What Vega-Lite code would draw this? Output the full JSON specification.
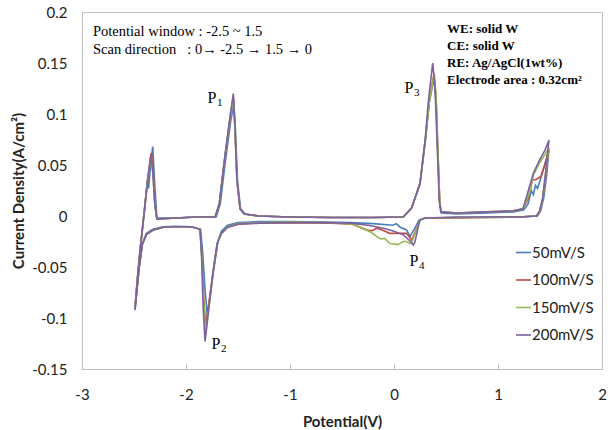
{
"$schema": "https://vega.github.io/schema/vega-lite/v6.json",
"width": 520, "height": 357,
"autosize": {"type": "none"},
"padding": {"left": 82, "top": 12, "right": 9, "bottom": 61},
"config": {"view": {"stroke": "#BFBFBF", "strokeWidth": 1}, "font": "Lato"},
"datasets": {
"cv": [
{"s":"50mV/S","o":1,"x":1.49,"y":0.065},{"s":"50mV/S","o":2,"x":1.47,"y":0.042},{"s":"50mV/S","o":3,"x":1.44,"y":0.018},{"s":"50mV/S","o":4,"x":1.41,"y":0.005},{"s":"50mV/S","o":5,"x":1.38,"y":0.0},{"s":"50mV/S","o":6,"x":1.2,"y":-0.001},{"s":"50mV/S","o":7,"x":0.9,"y":-0.001},{"s":"50mV/S","o":8,"x":0.6,"y":-0.0015},{"s":"50mV/S","o":9,"x":0.3,"y":-0.002},{"s":"50mV/S","o":10,"x":0.24,"y":-0.004},{"s":"50mV/S","o":11,"x":0.2,"y":-0.012},{"s":"50mV/S","o":12,"x":0.155,"y":-0.02},{"s":"50mV/S","o":13,"x":0.12,"y":-0.0137},{"s":"50mV/S","o":14,"x":0.06,"y":-0.011},{"s":"50mV/S","o":15,"x":0.02,"y":-0.0075},{"s":"50mV/S","o":16,"x":-0.01,"y":-0.009},{"s":"50mV/S","o":17,"x":-0.2,"y":-0.0075},{"s":"50mV/S","o":18,"x":-0.42,"y":-0.0065},{"s":"50mV/S","o":19,"x":-0.7,"y":-0.006},{"s":"50mV/S","o":20,"x":-1.0,"y":-0.0055},{"s":"50mV/S","o":21,"x":-1.3,"y":-0.0055},{"s":"50mV/S","o":22,"x":-1.5,"y":-0.0065},{"s":"50mV/S","o":23,"x":-1.6,"y":-0.009},{"s":"50mV/S","o":24,"x":-1.66,"y":-0.015},{"s":"50mV/S","o":25,"x":-1.69,"y":-0.024},{"s":"50mV/S","o":26,"x":-1.73,"y":-0.05},{"s":"50mV/S","o":27,"x":-1.77,"y":-0.08},{"s":"50mV/S","o":28,"x":-1.795,"y":-0.097},{"s":"50mV/S","o":29,"x":-1.815,"y":-0.075},{"s":"50mV/S","o":30,"x":-1.84,"y":-0.035},{"s":"50mV/S","o":31,"x":-1.86,"y":-0.013},{"s":"50mV/S","o":32,"x":-1.95,"y":-0.0105},{"s":"50mV/S","o":33,"x":-2.1,"y":-0.01},{"s":"50mV/S","o":34,"x":-2.22,"y":-0.0105},{"s":"50mV/S","o":35,"x":-2.32,"y":-0.013},{"s":"50mV/S","o":36,"x":-2.38,"y":-0.017},{"s":"50mV/S","o":37,"x":-2.42,"y":-0.027},{"s":"50mV/S","o":38,"x":-2.45,"y":-0.05},{"s":"50mV/S","o":39,"x":-2.49,"y":-0.092},{"s":"50mV/S","o":40,"x":-2.47,"y":-0.065},{"s":"50mV/S","o":41,"x":-2.44,"y":-0.032},{"s":"50mV/S","o":42,"x":-2.4,"y":0.006},{"s":"50mV/S","o":43,"x":-2.37,"y":0.035},{"s":"50mV/S","o":44,"x":-2.36,"y":0.027},{"s":"50mV/S","o":45,"x":-2.34,"y":0.05},{"s":"50mV/S","o":46,"x":-2.32,"y":0.068},{"s":"50mV/S","o":47,"x":-2.3,"y":0.03},{"s":"50mV/S","o":48,"x":-2.28,"y":-0.002},{"s":"50mV/S","o":49,"x":-2.1,"y":-0.002},{"s":"50mV/S","o":50,"x":-1.9,"y":-0.001},{"s":"50mV/S","o":51,"x":-1.71,"y":-0.001},{"s":"50mV/S","o":52,"x":-1.67,"y":0.012},{"s":"50mV/S","o":53,"x":-1.62,"y":0.055},{"s":"50mV/S","o":54,"x":-1.57,"y":0.093},{"s":"50mV/S","o":55,"x":-1.54,"y":0.11},{"s":"50mV/S","o":56,"x":-1.525,"y":0.085},{"s":"50mV/S","o":57,"x":-1.505,"y":0.035},{"s":"50mV/S","o":58,"x":-1.475,"y":0.007},{"s":"50mV/S","o":59,"x":-1.43,"y":0.002},{"s":"50mV/S","o":60,"x":-1.3,"y":0.0},{"s":"50mV/S","o":61,"x":-1.0,"y":-0.001},{"s":"50mV/S","o":62,"x":-0.6,"y":-0.0015},{"s":"50mV/S","o":63,"x":-0.2,"y":-0.0015},{"s":"50mV/S","o":64,"x":0.09,"y":-0.001},{"s":"50mV/S","o":65,"x":0.17,"y":0.008},{"s":"50mV/S","o":66,"x":0.25,"y":0.031},{"s":"50mV/S","o":67,"x":0.3,"y":0.072},{"s":"50mV/S","o":68,"x":0.34,"y":0.112},{"s":"50mV/S","o":69,"x":0.385,"y":0.135},{"s":"50mV/S","o":70,"x":0.405,"y":0.11},{"s":"50mV/S","o":71,"x":0.42,"y":0.065},{"s":"50mV/S","o":72,"x":0.44,"y":0.012},{"s":"50mV/S","o":73,"x":0.455,"y":0.003},{"s":"50mV/S","o":74,"x":0.6,"y":0.002},{"s":"50mV/S","o":75,"x":0.9,"y":0.003},{"s":"50mV/S","o":76,"x":1.15,"y":0.004},{"s":"50mV/S","o":77,"x":1.25,"y":0.006},{"s":"50mV/S","o":78,"x":1.29,"y":0.012},{"s":"50mV/S","o":79,"x":1.32,"y":0.025},{"s":"50mV/S","o":80,"x":1.34,"y":0.021},{"s":"50mV/S","o":81,"x":1.36,"y":0.03},{"s":"50mV/S","o":82,"x":1.38,"y":0.027},{"s":"50mV/S","o":83,"x":1.42,"y":0.04},{"s":"50mV/S","o":84,"x":1.49,"y":0.065},

{"s":"100mV/S","o":1,"x":1.485,"y":0.063},{"s":"100mV/S","o":2,"x":1.46,"y":0.04},{"s":"100mV/S","o":3,"x":1.43,"y":0.016},{"s":"100mV/S","o":4,"x":1.4,"y":0.004},{"s":"100mV/S","o":5,"x":1.37,"y":0.0},{"s":"100mV/S","o":6,"x":1.2,"y":-0.001},{"s":"100mV/S","o":7,"x":0.9,"y":-0.0015},{"s":"100mV/S","o":8,"x":0.6,"y":-0.002},{"s":"100mV/S","o":9,"x":0.3,"y":-0.002},{"s":"100mV/S","o":10,"x":0.25,"y":-0.004},{"s":"100mV/S","o":11,"x":0.21,"y":-0.014},{"s":"100mV/S","o":12,"x":0.17,"y":-0.0235},{"s":"100mV/S","o":13,"x":0.12,"y":-0.017},{"s":"100mV/S","o":14,"x":0.04,"y":-0.017},{"s":"100mV/S","o":15,"x":-0.04,"y":-0.017},{"s":"100mV/S","o":16,"x":-0.12,"y":-0.0135},{"s":"100mV/S","o":17,"x":-0.167,"y":-0.012},{"s":"100mV/S","o":18,"x":-0.21,"y":-0.0145},{"s":"100mV/S","o":19,"x":-0.26,"y":-0.0137},{"s":"100mV/S","o":20,"x":-0.4,"y":-0.008},{"s":"100mV/S","o":21,"x":-0.6,"y":-0.007},{"s":"100mV/S","o":22,"x":-1.0,"y":-0.0065},{"s":"100mV/S","o":23,"x":-1.3,"y":-0.007},{"s":"100mV/S","o":24,"x":-1.5,"y":-0.008},{"s":"100mV/S","o":25,"x":-1.6,"y":-0.011},{"s":"100mV/S","o":26,"x":-1.66,"y":-0.017},{"s":"100mV/S","o":27,"x":-1.7,"y":-0.027},{"s":"100mV/S","o":28,"x":-1.74,"y":-0.055},{"s":"100mV/S","o":29,"x":-1.78,"y":-0.085},{"s":"100mV/S","o":30,"x":-1.81,"y":-0.108},{"s":"100mV/S","o":31,"x":-1.83,"y":-0.08},{"s":"100mV/S","o":32,"x":-1.85,"y":-0.035},{"s":"100mV/S","o":33,"x":-1.865,"y":-0.013},{"s":"100mV/S","o":34,"x":-1.95,"y":-0.0105},{"s":"100mV/S","o":35,"x":-2.1,"y":-0.0105},{"s":"100mV/S","o":36,"x":-2.22,"y":-0.011},{"s":"100mV/S","o":37,"x":-2.32,"y":-0.014},{"s":"100mV/S","o":38,"x":-2.38,"y":-0.018},{"s":"100mV/S","o":39,"x":-2.42,"y":-0.028},{"s":"100mV/S","o":40,"x":-2.45,"y":-0.05},{"s":"100mV/S","o":41,"x":-2.49,"y":-0.09},{"s":"100mV/S","o":42,"x":-2.47,"y":-0.064},{"s":"100mV/S","o":43,"x":-2.44,"y":-0.032},{"s":"100mV/S","o":44,"x":-2.4,"y":0.006},{"s":"100mV/S","o":45,"x":-2.37,"y":0.036},{"s":"100mV/S","o":46,"x":-2.335,"y":0.062},{"s":"100mV/S","o":47,"x":-2.315,"y":0.045},{"s":"100mV/S","o":48,"x":-2.3,"y":0.012},{"s":"100mV/S","o":49,"x":-2.28,"y":-0.003},{"s":"100mV/S","o":50,"x":-2.1,"y":-0.002},{"s":"100mV/S","o":51,"x":-1.9,"y":-0.001},{"s":"100mV/S","o":52,"x":-1.72,"y":-0.001},{"s":"100mV/S","o":53,"x":-1.68,"y":0.012},{"s":"100mV/S","o":54,"x":-1.63,"y":0.055},{"s":"100mV/S","o":55,"x":-1.58,"y":0.093},{"s":"100mV/S","o":56,"x":-1.545,"y":0.117},{"s":"100mV/S","o":57,"x":-1.53,"y":0.088},{"s":"100mV/S","o":58,"x":-1.51,"y":0.035},{"s":"100mV/S","o":59,"x":-1.48,"y":0.007},{"s":"100mV/S","o":60,"x":-1.44,"y":0.002},{"s":"100mV/S","o":61,"x":-1.3,"y":0.0},{"s":"100mV/S","o":62,"x":-1.0,"y":-0.001},{"s":"100mV/S","o":63,"x":-0.6,"y":-0.0015},{"s":"100mV/S","o":64,"x":-0.2,"y":-0.0015},{"s":"100mV/S","o":65,"x":0.09,"y":-0.001},{"s":"100mV/S","o":66,"x":0.17,"y":0.008},{"s":"100mV/S","o":67,"x":0.25,"y":0.032},{"s":"100mV/S","o":68,"x":0.3,"y":0.074},{"s":"100mV/S","o":69,"x":0.34,"y":0.113},{"s":"100mV/S","o":70,"x":0.385,"y":0.14},{"s":"100mV/S","o":71,"x":0.405,"y":0.115},{"s":"100mV/S","o":72,"x":0.42,"y":0.07},{"s":"100mV/S","o":73,"x":0.44,"y":0.013},{"s":"100mV/S","o":74,"x":0.455,"y":0.004},{"s":"100mV/S","o":75,"x":0.6,"y":0.003},{"s":"100mV/S","o":76,"x":0.9,"y":0.004},{"s":"100mV/S","o":77,"x":1.15,"y":0.005},{"s":"100mV/S","o":78,"x":1.24,"y":0.007},{"s":"100mV/S","o":79,"x":1.29,"y":0.017},{"s":"100mV/S","o":80,"x":1.33,"y":0.035},{"s":"100mV/S","o":81,"x":1.37,"y":0.036},{"s":"100mV/S","o":82,"x":1.41,"y":0.0385},{"s":"100mV/S","o":83,"x":1.45,"y":0.05},{"s":"100mV/S","o":84,"x":1.485,"y":0.063},

{"s":"150mV/S","o":1,"x":1.49,"y":0.067},{"s":"150mV/S","o":2,"x":1.46,"y":0.042},{"s":"150mV/S","o":3,"x":1.43,"y":0.017},{"s":"150mV/S","o":4,"x":1.4,"y":0.004},{"s":"150mV/S","o":5,"x":1.37,"y":0.0},{"s":"150mV/S","o":6,"x":1.2,"y":-0.001},{"s":"150mV/S","o":7,"x":0.9,"y":-0.0015},{"s":"150mV/S","o":8,"x":0.6,"y":-0.0015},{"s":"150mV/S","o":9,"x":0.3,"y":-0.002},{"s":"150mV/S","o":10,"x":0.25,"y":-0.004},{"s":"150mV/S","o":11,"x":0.21,"y":-0.015},{"s":"150mV/S","o":12,"x":0.17,"y":-0.026},{"s":"150mV/S","o":13,"x":0.154,"y":-0.027},{"s":"150mV/S","o":14,"x":0.12,"y":-0.025},{"s":"150mV/S","o":15,"x":0.087,"y":-0.025},{"s":"150mV/S","o":16,"x":0.04,"y":-0.028},{"s":"150mV/S","o":17,"x":-0.04,"y":-0.027},{"s":"150mV/S","o":18,"x":-0.09,"y":-0.022},{"s":"150mV/S","o":19,"x":-0.13,"y":-0.0225},{"s":"150mV/S","o":20,"x":-0.167,"y":-0.02},{"s":"150mV/S","o":21,"x":-0.22,"y":-0.016},{"s":"150mV/S","o":22,"x":-0.3,"y":-0.0125},{"s":"150mV/S","o":23,"x":-0.39,"y":-0.008},{"s":"150mV/S","o":24,"x":-0.6,"y":-0.0065},{"s":"150mV/S","o":25,"x":-1.0,"y":-0.006},{"s":"150mV/S","o":26,"x":-1.3,"y":-0.0065},{"s":"150mV/S","o":27,"x":-1.5,"y":-0.0075},{"s":"150mV/S","o":28,"x":-1.6,"y":-0.0105},{"s":"150mV/S","o":29,"x":-1.66,"y":-0.017},{"s":"150mV/S","o":30,"x":-1.7,"y":-0.027},{"s":"150mV/S","o":31,"x":-1.74,"y":-0.055},{"s":"150mV/S","o":32,"x":-1.78,"y":-0.09},{"s":"150mV/S","o":33,"x":-1.81,"y":-0.115},{"s":"150mV/S","o":34,"x":-1.83,"y":-0.085},{"s":"150mV/S","o":35,"x":-1.85,"y":-0.037},{"s":"150mV/S","o":36,"x":-1.865,"y":-0.013},{"s":"150mV/S","o":37,"x":-1.95,"y":-0.0105},{"s":"150mV/S","o":38,"x":-2.1,"y":-0.0105},{"s":"150mV/S","o":39,"x":-2.22,"y":-0.011},{"s":"150mV/S","o":40,"x":-2.32,"y":-0.014},{"s":"150mV/S","o":41,"x":-2.38,"y":-0.018},{"s":"150mV/S","o":42,"x":-2.42,"y":-0.028},{"s":"150mV/S","o":43,"x":-2.45,"y":-0.05},{"s":"150mV/S","o":44,"x":-2.49,"y":-0.09},{"s":"150mV/S","o":45,"x":-2.47,"y":-0.064},{"s":"150mV/S","o":46,"x":-2.44,"y":-0.032},{"s":"150mV/S","o":47,"x":-2.4,"y":0.005},{"s":"150mV/S","o":48,"x":-2.37,"y":0.033},{"s":"150mV/S","o":49,"x":-2.34,"y":0.056},{"s":"150mV/S","o":50,"x":-2.32,"y":0.043},{"s":"150mV/S","o":51,"x":-2.3,"y":0.012},{"s":"150mV/S","o":52,"x":-2.28,"y":-0.003},{"s":"150mV/S","o":53,"x":-2.1,"y":-0.002},{"s":"150mV/S","o":54,"x":-1.9,"y":-0.001},{"s":"150mV/S","o":55,"x":-1.72,"y":-0.001},{"s":"150mV/S","o":56,"x":-1.68,"y":0.012},{"s":"150mV/S","o":57,"x":-1.63,"y":0.055},{"s":"150mV/S","o":58,"x":-1.58,"y":0.093},{"s":"150mV/S","o":59,"x":-1.545,"y":0.115},{"s":"150mV/S","o":60,"x":-1.53,"y":0.087},{"s":"150mV/S","o":61,"x":-1.51,"y":0.035},{"s":"150mV/S","o":62,"x":-1.48,"y":0.007},{"s":"150mV/S","o":63,"x":-1.44,"y":0.002},{"s":"150mV/S","o":64,"x":-1.3,"y":0.0},{"s":"150mV/S","o":65,"x":-1.0,"y":-0.001},{"s":"150mV/S","o":66,"x":-0.6,"y":-0.0015},{"s":"150mV/S","o":67,"x":-0.2,"y":-0.0015},{"s":"150mV/S","o":68,"x":0.09,"y":-0.001},{"s":"150mV/S","o":69,"x":0.17,"y":0.008},{"s":"150mV/S","o":70,"x":0.25,"y":0.032},{"s":"150mV/S","o":71,"x":0.3,"y":0.074},{"s":"150mV/S","o":72,"x":0.34,"y":0.112},{"s":"150mV/S","o":73,"x":0.387,"y":0.139},{"s":"150mV/S","o":74,"x":0.405,"y":0.115},{"s":"150mV/S","o":75,"x":0.42,"y":0.07},{"s":"150mV/S","o":76,"x":0.44,"y":0.013},{"s":"150mV/S","o":77,"x":0.455,"y":0.004},{"s":"150mV/S","o":78,"x":0.6,"y":0.003},{"s":"150mV/S","o":79,"x":0.9,"y":0.004},{"s":"150mV/S","o":80,"x":1.15,"y":0.005},{"s":"150mV/S","o":81,"x":1.24,"y":0.007},{"s":"150mV/S","o":82,"x":1.3,"y":0.022},{"s":"150mV/S","o":83,"x":1.34,"y":0.04},{"s":"150mV/S","o":84,"x":1.4,"y":0.052},{"s":"150mV/S","o":85,"x":1.45,"y":0.06},{"s":"150mV/S","o":86,"x":1.49,"y":0.067},

{"s":"200mV/S","o":1,"x":1.49,"y":0.0745},{"s":"200mV/S","o":2,"x":1.46,"y":0.045},{"s":"200mV/S","o":3,"x":1.43,"y":0.018},{"s":"200mV/S","o":4,"x":1.4,"y":0.005},{"s":"200mV/S","o":5,"x":1.37,"y":0.0},{"s":"200mV/S","o":6,"x":1.2,"y":-0.001},{"s":"200mV/S","o":7,"x":0.9,"y":-0.001},{"s":"200mV/S","o":8,"x":0.6,"y":-0.001},{"s":"200mV/S","o":9,"x":0.3,"y":-0.002},{"s":"200mV/S","o":10,"x":0.25,"y":-0.004},{"s":"200mV/S","o":11,"x":0.23,"y":-0.012},{"s":"200mV/S","o":12,"x":0.2,"y":-0.026},{"s":"200mV/S","o":13,"x":0.186,"y":-0.0284},{"s":"200mV/S","o":14,"x":0.16,"y":-0.025},{"s":"200mV/S","o":15,"x":0.09,"y":-0.0185},{"s":"200mV/S","o":16,"x":0.0,"y":-0.015},{"s":"200mV/S","o":17,"x":-0.1,"y":-0.012},{"s":"200mV/S","o":18,"x":-0.25,"y":-0.009},{"s":"200mV/S","o":19,"x":-0.42,"y":-0.007},{"s":"200mV/S","o":20,"x":-0.7,"y":-0.0065},{"s":"200mV/S","o":21,"x":-1.0,"y":-0.0065},{"s":"200mV/S","o":22,"x":-1.3,"y":-0.007},{"s":"200mV/S","o":23,"x":-1.5,"y":-0.008},{"s":"200mV/S","o":24,"x":-1.6,"y":-0.011},{"s":"200mV/S","o":25,"x":-1.66,"y":-0.017},{"s":"200mV/S","o":26,"x":-1.7,"y":-0.027},{"s":"200mV/S","o":27,"x":-1.74,"y":-0.055},{"s":"200mV/S","o":28,"x":-1.78,"y":-0.09},{"s":"200mV/S","o":29,"x":-1.817,"y":-0.123},{"s":"200mV/S","o":30,"x":-1.835,"y":-0.09},{"s":"200mV/S","o":31,"x":-1.85,"y":-0.04},{"s":"200mV/S","o":32,"x":-1.865,"y":-0.013},{"s":"200mV/S","o":33,"x":-1.95,"y":-0.0105},{"s":"200mV/S","o":34,"x":-2.1,"y":-0.0105},{"s":"200mV/S","o":35,"x":-2.22,"y":-0.011},{"s":"200mV/S","o":36,"x":-2.32,"y":-0.014},{"s":"200mV/S","o":37,"x":-2.38,"y":-0.018},{"s":"200mV/S","o":38,"x":-2.42,"y":-0.028},{"s":"200mV/S","o":39,"x":-2.45,"y":-0.05},{"s":"200mV/S","o":40,"x":-2.49,"y":-0.092},{"s":"200mV/S","o":41,"x":-2.47,"y":-0.065},{"s":"200mV/S","o":42,"x":-2.44,"y":-0.033},{"s":"200mV/S","o":43,"x":-2.4,"y":0.005},{"s":"200mV/S","o":44,"x":-2.37,"y":0.033},{"s":"200mV/S","o":45,"x":-2.34,"y":0.058},{"s":"200mV/S","o":46,"x":-2.32,"y":0.045},{"s":"200mV/S","o":47,"x":-2.3,"y":0.012},{"s":"200mV/S","o":48,"x":-2.28,"y":-0.003},{"s":"200mV/S","o":49,"x":-2.1,"y":-0.002},{"s":"200mV/S","o":50,"x":-1.9,"y":-0.001},{"s":"200mV/S","o":51,"x":-1.72,"y":-0.001},{"s":"200mV/S","o":52,"x":-1.68,"y":0.012},{"s":"200mV/S","o":53,"x":-1.63,"y":0.055},{"s":"200mV/S","o":54,"x":-1.58,"y":0.095},{"s":"200mV/S","o":55,"x":-1.545,"y":0.12},{"s":"200mV/S","o":56,"x":-1.53,"y":0.09},{"s":"200mV/S","o":57,"x":-1.51,"y":0.035},{"s":"200mV/S","o":58,"x":-1.48,"y":0.007},{"s":"200mV/S","o":59,"x":-1.44,"y":0.002},{"s":"200mV/S","o":60,"x":-1.3,"y":0.0},{"s":"200mV/S","o":61,"x":-1.0,"y":-0.001},{"s":"200mV/S","o":62,"x":-0.6,"y":-0.0015},{"s":"200mV/S","o":63,"x":-0.2,"y":-0.0015},{"s":"200mV/S","o":64,"x":0.09,"y":-0.001},{"s":"200mV/S","o":65,"x":0.17,"y":0.008},{"s":"200mV/S","o":66,"x":0.25,"y":0.032},{"s":"200mV/S","o":67,"x":0.3,"y":0.075},{"s":"200mV/S","o":68,"x":0.33,"y":0.112},{"s":"200mV/S","o":69,"x":0.372,"y":0.15},{"s":"200mV/S","o":70,"x":0.395,"y":0.125},{"s":"200mV/S","o":71,"x":0.415,"y":0.07},{"s":"200mV/S","o":72,"x":0.435,"y":0.015},{"s":"200mV/S","o":73,"x":0.45,"y":0.004},{"s":"200mV/S","o":74,"x":0.6,"y":0.003},{"s":"200mV/S","o":75,"x":0.9,"y":0.004},{"s":"200mV/S","o":76,"x":1.15,"y":0.005},{"s":"200mV/S","o":77,"x":1.24,"y":0.007},{"s":"200mV/S","o":78,"x":1.3,"y":0.028},{"s":"200mV/S","o":79,"x":1.34,"y":0.042},{"s":"200mV/S","o":80,"x":1.4,"y":0.055},{"s":"200mV/S","o":81,"x":1.45,"y":0.064},{"s":"200mV/S","o":82,"x":1.49,"y":0.0745}
],
"notes": [
{"g":"left","text":"Potential window : -2.5 ~ 1.5","x":-2.894,"y":0.1807},
{"g":"left","text":"Scan direction\u00a0\u00a0 : 0→ -2.5 → 1.5 → 0","x":-2.894,"y":0.1627},
{"g":"right","text":"WE: solid W","x":0.51,"y":0.1833},
{"g":"right","text":"CE: solid W","x":0.51,"y":0.1667},
{"g":"right","text":"RE: Ag/AgCl(1wt%)","x":0.51,"y":0.15},
{"g":"right","text":"Electrode area : 0.32cm²","x":0.51,"y":0.1333}
],
"plabels": [
{"p":"P","n":"1","x":-1.75,"y":0.1157},
{"p":"P","n":"2","x":-1.712,"y":-0.1255},
{"p":"P","n":"3","x":0.144,"y":0.1255},
{"p":"P","n":"4","x":0.192,"y":-0.0441}
]
},
"layer": [
{
"data": {"name": "cv"},
"mark": {"type": "line", "strokeWidth": 1.6},
"encoding": {
"x": {"field": "x", "type": "quantitative",
"scale": {"domain": [-3, 2], "nice": false, "zero": false},
"axis": {"values": [-3, -2, -1, 0, 1, 2], "grid": false, "tickSize": -5, "tickColor": "#BFBFBF", "domainColor": "#BFBFBF",
"labelFont": "Lato", "labelFontSize": 15, "labelColor": "#222222", "labelPadding": 23, "labelFlush": false, "labelOverlap": false,
"labelExpr": "replace(format(datum.value, '~g'), '\u2212', '-')",
"title": "Potential(V)", "titleFont": "Lato", "titleFontSize": 15, "titleFontWeight": "bold", "titleColor": "#222222", "titlePadding": 12}},
"y": {"field": "y", "type": "quantitative",
"scale": {"domain": [-0.15, 0.2], "nice": false, "zero": false},
"axis": {"values": [-0.15, -0.1, -0.05, 0, 0.05, 0.1, 0.15, 0.2], "grid": false, "ticks": false, "domainColor": "#BFBFBF",
"labelFont": "Lato", "labelFontSize": 15, "labelColor": "#222222", "labelPadding": 15, "labelOverlap": false,
"labelExpr": "replace(format(datum.value, '~g'), '\u2212', '-')",
"title": "Current Density(A/cm²)", "titleFont": "Lato", "titleFontSize": 15, "titleFontWeight": "bold", "titleColor": "#222222", "titlePadding": 5}},
"color": {"field": "s", "type": "nominal",
"scale": {"domain": ["50mV/S", "100mV/S", "150mV/S", "200mV/S"], "range": ["#4A7EBB", "#BE4B48", "#98B954", "#7D60A0"]},
"legend": {"orient": "none", "legendX": 433, "legendY": 232, "title": null, "symbolType": "stroke", "symbolSize": 225, "symbolStrokeWidth": 1.6,
"labelFont": "Lato", "labelFontSize": 15, "labelColor": "#222222", "labelOffset": 0, "rowPadding": 10.5}},
"order": {"field": "o", "type": "quantitative"}
}
},
{
"data": {"name": "notes"},
"transform": [{"filter": "datum.g == 'left'"}],
"mark": {"type": "text", "font": "Liberation Serif", "fontSize": 14.5, "align": "left", "baseline": "middle", "color": "#000000"},
"encoding": {"x": {"field": "x", "type": "quantitative"}, "y": {"field": "y", "type": "quantitative"}, "text": {"field": "text"}}
},
{
"data": {"name": "notes"},
"transform": [{"filter": "datum.g == 'right'"}],
"mark": {"type": "text", "font": "Liberation Serif", "fontSize": 13, "fontWeight": "bold", "align": "left", "baseline": "middle", "color": "#000000"},
"encoding": {"x": {"field": "x", "type": "quantitative"}, "y": {"field": "y", "type": "quantitative"}, "text": {"field": "text"}}
},
{
"data": {"name": "plabels"},
"mark": {"type": "text", "font": "Liberation Serif", "fontSize": 16, "align": "center", "baseline": "middle", "color": "#000000"},
"encoding": {"x": {"field": "x", "type": "quantitative"}, "y": {"field": "y", "type": "quantitative"}, "text": {"field": "p"}}
},
{
"data": {"name": "plabels"},
"mark": {"type": "text", "font": "Liberation Serif", "fontSize": 11, "align": "left", "baseline": "middle", "dx": 5, "dy": 5, "color": "#000000"},
"encoding": {"x": {"field": "x", "type": "quantitative"}, "y": {"field": "y", "type": "quantitative"}, "text": {"field": "n"}}
}
]
}
